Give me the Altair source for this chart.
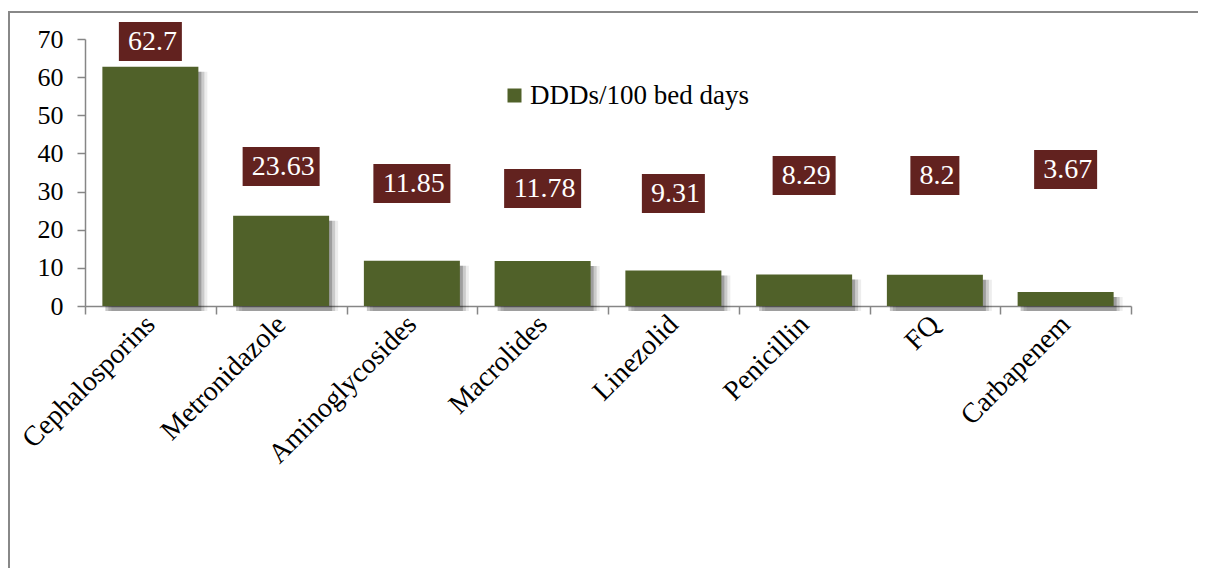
import altair as alt
import pandas as pd

categories = ["Cephalosporins", "Metronidazole", "Aminoglycosides", "Macrolides",
              "Linezolid", "Penicillin", "FQ", "Carbapenem"]
values = [62.7, 23.63, 11.85, 11.78, 9.31, 8.29, 8.2, 3.67]
label_text = ["62.7", "23.63", "11.85", "11.78", "9.31", "8.29", "8.2", "3.67"]
label_y = [69.35, 36.58, 32.12, 30.81, 29.50, 34.22, 34.22, 35.79]
series_name = "DDDs/100 bed days"
y_ticks = [0, 10, 20, 30, 40, 50, 60, 70]

BAR = "#506129"
BOX = "#62221F"
GREY = "#868686"
FONT = "Liberation Serif"

df = pd.DataFrame({"cat": categories, "val": values, "label": label_text, "ly": label_y})

W, H = 1046, 267

x_enc = alt.X(
    "cat:N", sort=categories,
    scale=alt.Scale(paddingInner=0, paddingOuter=0),
    axis=alt.Axis(
        title=None, labelAngle=-45, labelAlign="right", labelBaseline="middle",
        labelFont=FONT, labelFontSize=28, labelColor="black", labelPadding=6,
        labelLimit=400, labelOverlap=False,
        domainColor=GREY, domainWidth=1.5, tickColor=GREY, tickWidth=1.5,
        tickSize=8, tickBand="extent", grid=False,
    ),
)
y_scale = alt.Scale(domain=[0, 70], nice=False)
y_axis = alt.Axis(
    title=None, values=y_ticks, tickCount=8, grid=False, labelFont=FONT, labelFontSize=26,
    labelColor="black", labelPadding=14, labelOverlap=False, labelFlush=False,
    domainColor=GREY, domainWidth=1.5, tickColor=GREY, tickWidth=1.5, tickSize=8,
)


def yq(field):
    return alt.Y(field, type="quantitative", scale=y_scale, axis=y_axis)


base = alt.Chart(df)

shadows = [
    base.mark_bar(width=96, xOffset=off, yOffset=5, color="#000000", opacity=op).encode(
        x=x_enc, y=yq("val")
    )
    for off, op in [(3, 0.22), (6, 0.14), (9, 0.07)]
]

bars = base.mark_bar(width=96).transform_calculate(series=f"'{series_name}'").encode(
    x=x_enc,
    y=yq("val"),
    color=alt.Color(
        "series:N",
        scale=alt.Scale(range=[BAR]),
        legend=alt.Legend(
            orient="none", legendX=416, legendY=43, title=None, symbolType="square",
            symbolSize=196, symbolStrokeWidth=0, labelFont=FONT, labelFontSize=27,
            labelColor="black", labelOffset=2, labelLimit=400, padding=0,
        ),
    ),
)

boxes = base.mark_tick(thickness=39, opacity=1, color=BOX, orient="horizontal").transform_calculate(
    boxw="length(datum.label) * 14 + 7"
).encode(
    x=x_enc,
    y=yq("ly"),
    size=alt.Size("boxw:Q", scale=None, legend=None),
)

texts = base.mark_text(font=FONT, fontSize=28, color="white", baseline="middle", dy=1, dx=2).encode(
    x=x_enc,
    y=yq("ly"),
    text="label:N",
)

frame = alt.Chart(pd.DataFrame({"a": [0]})).mark_rect(
    filled=False, stroke="#888888", strokeWidth=2
).encode(
    x=alt.value(-76), x2=alt.value(1300), y=alt.value(-27), y2=alt.value(700)
)

chart = alt.layer(frame, *shadows, bars, boxes, texts).properties(
    width=W, height=H,
    autosize=alt.AutoSizeParams(type="none"),
    padding={"left": 77, "top": 31, "right": 67, "bottom": 262},
).configure(background="white").configure_view(stroke=None)

chart.save("out.html", embed_options={"renderer": "svg", "actions": False})
